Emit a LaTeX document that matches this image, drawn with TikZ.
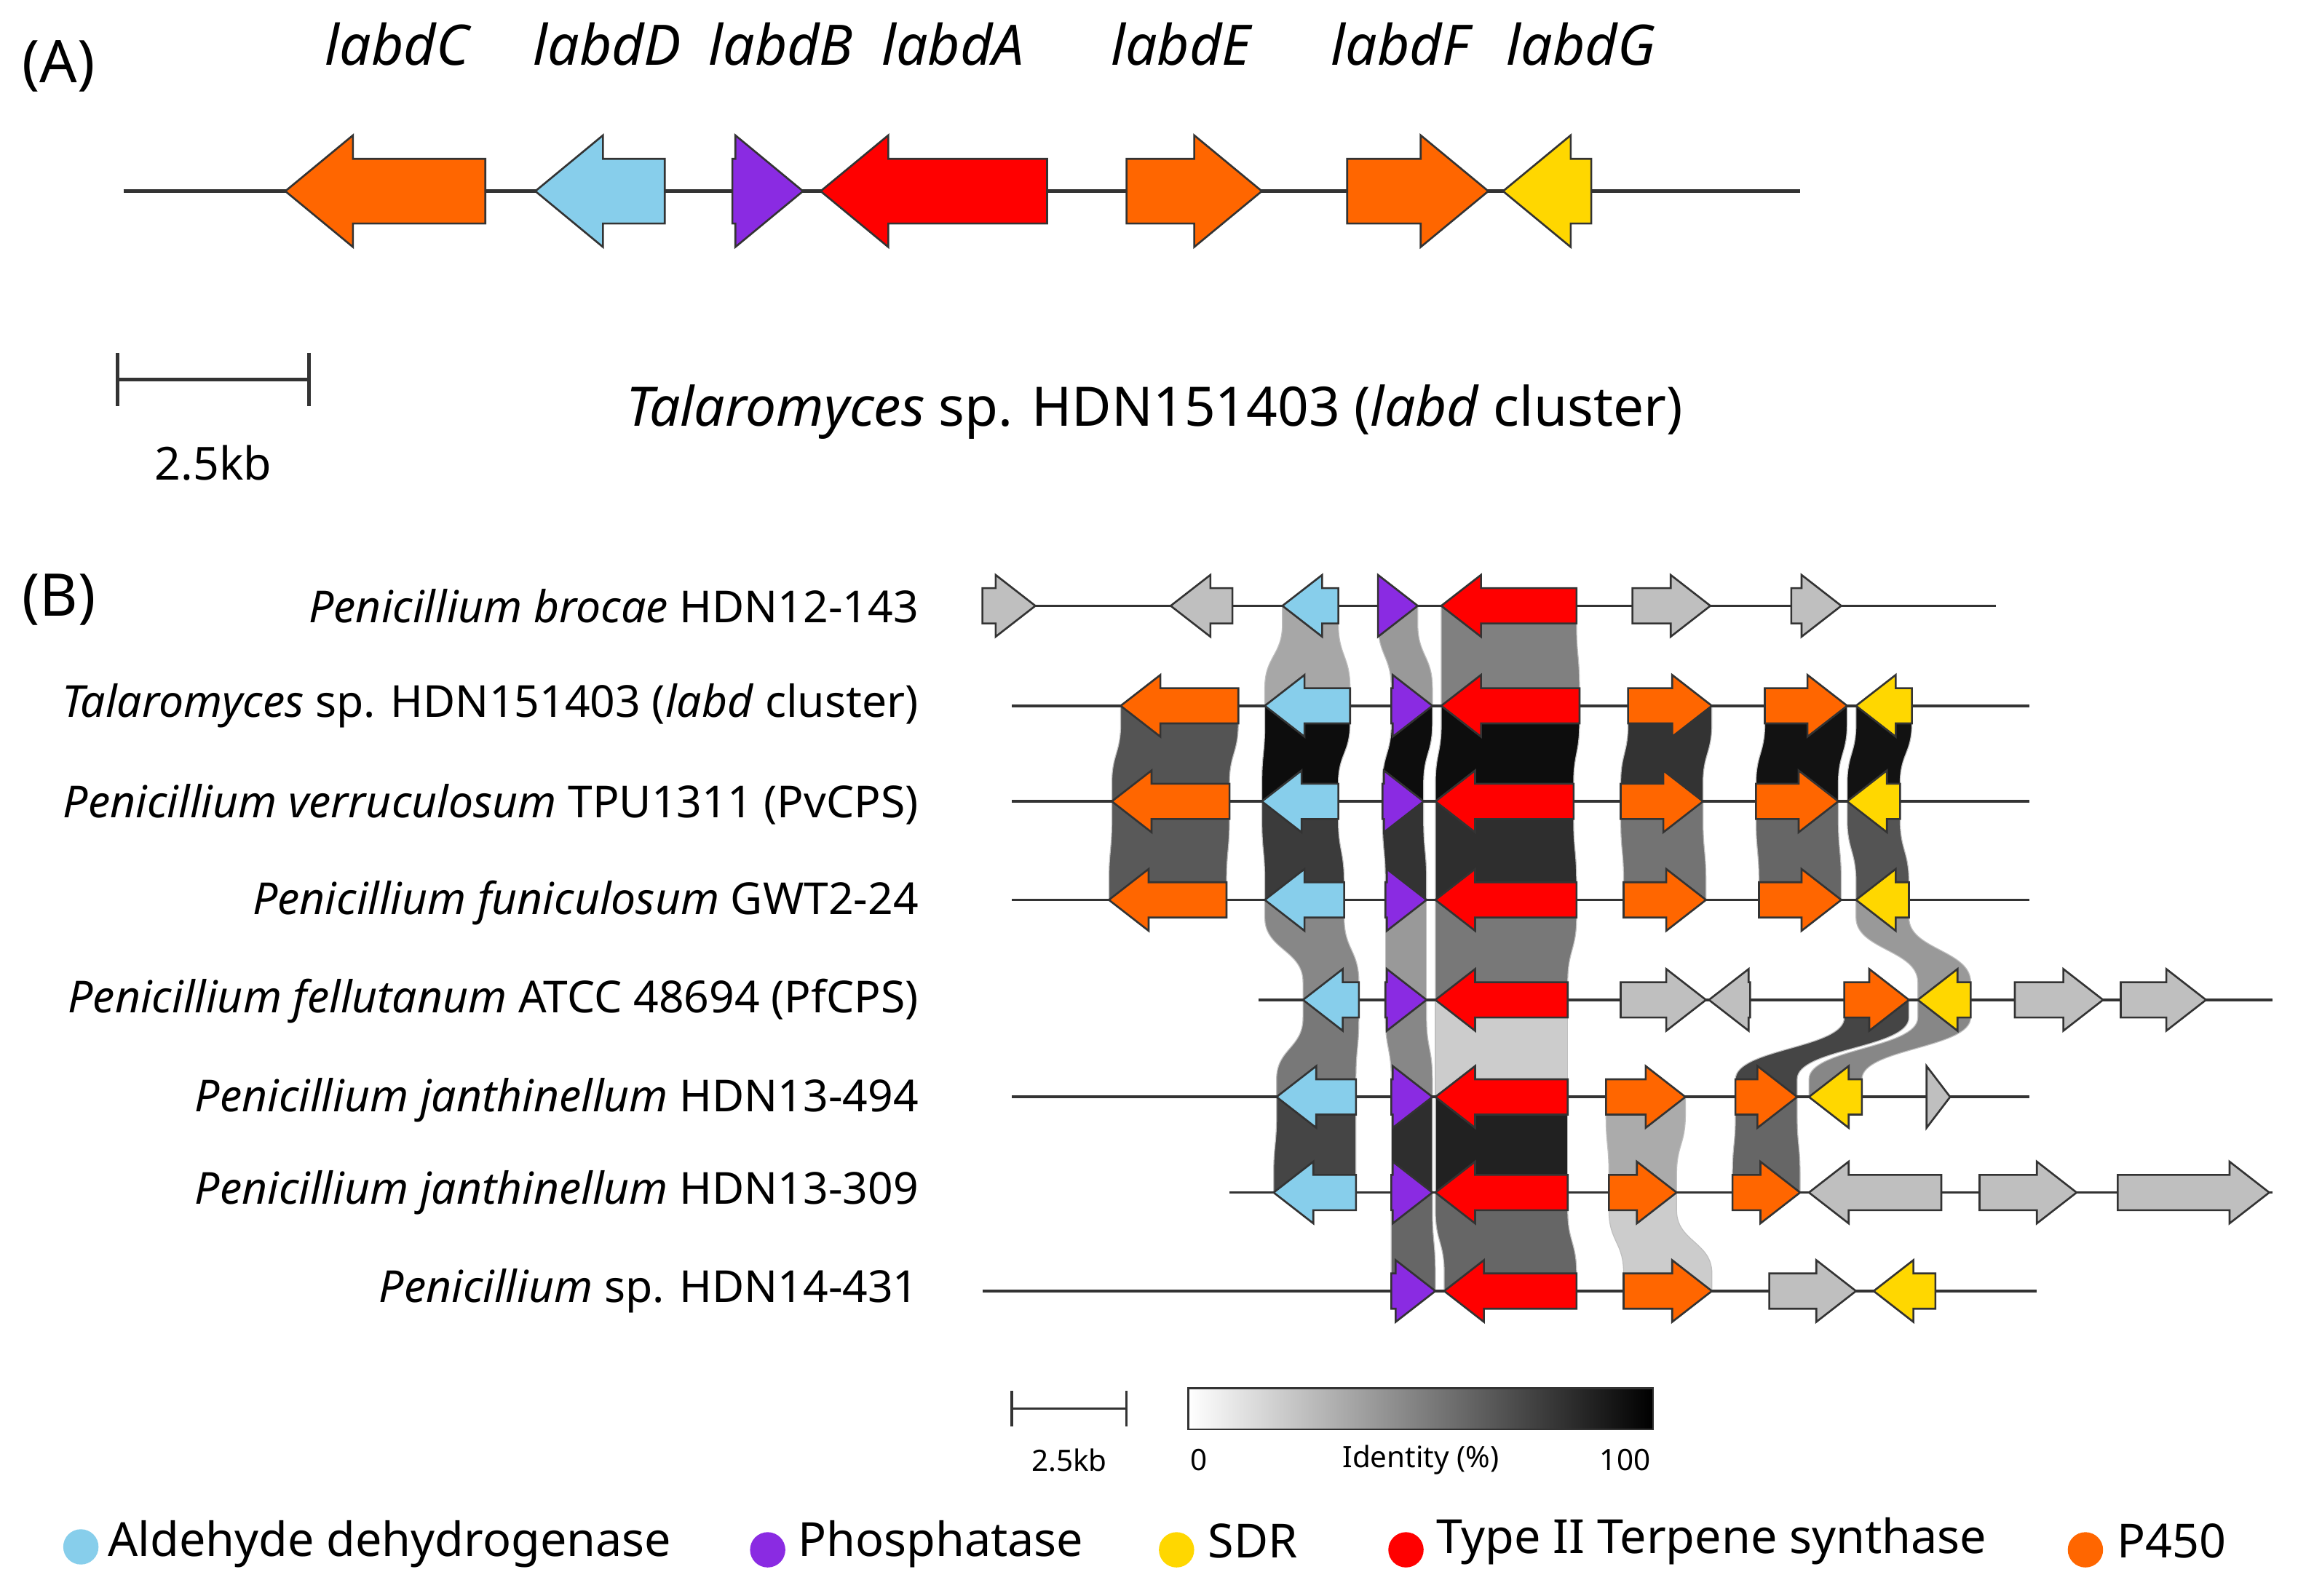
\documentclass[tikz,border=0pt]{standalone}
\usepackage{fontspec}
\setmainfont{Noto Sans}
\begin{document}
\definecolor{cOr}{HTML}{FF6600}\definecolor{cBl}{HTML}{87CEEB}\definecolor{cPu}{HTML}{8A2BE2}
\definecolor{cRe}{HTML}{FF0000}\definecolor{cYe}{HTML}{FFD700}\definecolor{cGr}{HTML}{BFBFBF}
\def\gb{12}\def\gH{21}\def\gL{27}
\newcommand\gR[4]{\pgfmathsetmacro\hl{min(\gL,#2-#1)}\pgfmathsetmacro\hx{#2-\hl}%
 \filldraw[gene,fill=#4] (#1,#3-\gb)--(\hx,#3-\gb)--(\hx,#3-\gH)--(#2,#3)--(\hx,#3+\gH)--(\hx,#3+\gb)--(#1,#3+\gb)--cycle;}
\newcommand\gLf[4]{\pgfmathsetmacro\hl{min(\gL,#2-#1)}\pgfmathsetmacro\hx{#1+\hl}%
 \filldraw[gene,fill=#4] (#2,#3-\gb)--(\hx,#3-\gb)--(\hx,#3-\gH)--(#1,#3)--(\hx,#3+\gH)--(\hx,#3+\gb)--(#2,#3+\gb)--cycle;}
\newcommand\rib[7]{\pgfmathsetmacro\mm{(#3+#6)/2}%
 \filldraw[ribbon,fill=#7] (#1,#3)--(#2,#3)--(#2,#3+\gb) .. controls (#2,\mm) and (#5,\mm) .. (#5,#6-\gb)--(#5,#6)--(#4,#6)--(#4,#6-\gb) .. controls (#4,\mm) and (#1,\mm) .. (#1,#3+\gb)--cycle;}
\begin{tikzpicture}[x=1pt,y=-1pt,
 gene/.style={draw=black!80,line width=1.3pt,line join=miter},
 ribbon/.style={draw=gray!50,line width=0.6pt},
 ln/.style={draw=black!80,line width=1.8pt},
 rl/.style={anchor=east,font=\fontsize{30}{34}\selectfont},
 lg/.style={anchor=west,font=\fontsize{32}{36}\selectfont},
 sm/.style={font=\fontsize{20}{24}\selectfont},
 gl/.style={font=\fontsize{38}{42}\selectfont\itshape}]
\useasboundingbox (0,0) rectangle (1568,1085);
% ---------- (A)
\node[font=\fontsize{40}{44}\selectfont] (A) at (40,45) {(A)};
\draw[ln,line width=2.2pt] (84,130) -- (1224,130);
{\def\gb{22}\def\gH{38}\def\gL{46}
\gLf{194}{330}{130}{cOr}\gLf{364}{452}{130}{cBl}\gR{498}{546}{130}{cPu}
\gLf{558}{712}{130}{cRe}\gR{766}{858}{130}{cOr}\gR{916}{1012}{130}{cOr}\gLf{1022}{1082}{130}{cYe}}
\node[gl] (lC) at (270,30) {labdC};\node[gl] (lD) at (413,30) {labdD};
\node[gl] (lB) at (531,30) {labdB};\node[gl] (lA) at (648,30) {labdA};
\node[gl] (lE) at (803,30) {labdE};\node[gl] (lF) at (952,30) {labdF};
\node[gl] (lG) at (1075,30) {labdG};
\draw[ln,line width=2.4pt] (80,258)--(210,258) (80,240)--(80,276) (210,240)--(210,276);
\node[font=\fontsize{31}{36}\selectfont] (sA) at (145,315) {2.5kb};
\node[font=\fontsize{37}{42}\selectfont] (tA) at (785,280) {\textit{Talaromyces} sp. HDN151403 (\textit{labd} cluster)};
% ---------- (B)
\node[font=\fontsize{40}{44}\selectfont] (B) at (40,408) {(B)};
% ribbons
\rib{872}{910}{412}{860}{918}{480}{gray!85!black!60}
\rib{937}{964}{412}{946}{974}{480}{black!40}
\rib{980}{1072}{412}{980}{1074}{480}{black!50}
\rib{762}{842}{480}{756}{836}{545}{black!67}
\rib{860}{918}{480}{858}{910}{545}{black!95}
\rib{946}{974}{480}{940}{968}{545}{black!95}
\rib{980}{1074}{480}{976}{1070}{545}{black!95}
\rib{1107}{1164}{480}{1102}{1158}{545}{black!80}
\rib{1200}{1256}{480}{1194}{1250}{545}{black!93}
\rib{1262}{1300}{480}{1256}{1292}{545}{black!93}
\rib{756}{836}{545}{754}{834}{612}{black!65}
\rib{858}{910}{545}{860}{914}{612}{black!77}
\rib{940}{968}{545}{942}{970}{612}{black!80}
\rib{976}{1070}{545}{976}{1072}{612}{black!82}
\rib{1102}{1158}{545}{1104}{1160}{612}{black!55}
\rib{1194}{1250}{545}{1196}{1252}{612}{black!60}
\rib{1256}{1292}{545}{1262}{1298}{612}{black!67}
\rib{860}{914}{612}{886}{924}{680}{black!47}
\rib{942}{970}{612}{942}{970}{680}{black!40}
\rib{976}{1072}{612}{976}{1066}{680}{black!53}
\rib{1262}{1298}{612}{1304}{1340}{680}{black!40}
\rib{886}{924}{680}{868}{922}{746}{black!53}
\rib{942}{970}{680}{946}{974}{746}{black!47}
\rib{976}{1066}{680}{976}{1066}{746}{black!20}
\rib{1254}{1298}{680}{1180}{1222}{746}{black!73}
\rib{1304}{1340}{680}{1230}{1266}{746}{black!47}
\rib{868}{922}{746}{866}{922}{811}{black!73}
\rib{946}{974}{746}{946}{974}{811}{black!82}
\rib{976}{1066}{746}{976}{1066}{811}{black!87}
\rib{1092}{1146}{746}{1094}{1140}{811}{black!33}
\rib{1180}{1222}{746}{1178}{1224}{811}{black!60}
\rib{946}{974}{811}{946}{976}{878}{black!60}
\rib{976}{1066}{811}{982}{1072}{878}{black!60}
\rib{1094}{1140}{811}{1104}{1164}{878}{black!20}
% rows
\draw[ln] (668,412)--(1357,412);
\gR{668}{704}{412}{cGr}\gLf{796}{838}{412}{cGr}\gLf{872}{910}{412}{cBl}\gR{937}{964}{412}{cPu}
\gLf{980}{1072}{412}{cRe}\gR{1110}{1163}{412}{cGr}\gR{1218}{1252}{412}{cGr}
\draw[ln] (688,480)--(1380,480);
\gLf{762}{842}{480}{cOr}\gLf{860}{918}{480}{cBl}\gR{946}{974}{480}{cPu}\gLf{980}{1074}{480}{cRe}
\gR{1107}{1164}{480}{cOr}\gR{1200}{1256}{480}{cOr}\gLf{1262}{1300}{480}{cYe}
\draw[ln] (688,545)--(1380,545);
\gLf{756}{836}{545}{cOr}\gLf{858}{910}{545}{cBl}\gR{940}{968}{545}{cPu}\gLf{976}{1070}{545}{cRe}
\gR{1102}{1158}{545}{cOr}\gR{1194}{1250}{545}{cOr}\gLf{1256}{1292}{545}{cYe}
\draw[ln] (688,612)--(1380,612);
\gLf{754}{834}{612}{cOr}\gLf{860}{914}{612}{cBl}\gR{942}{970}{612}{cPu}\gLf{976}{1072}{612}{cRe}
\gR{1104}{1160}{612}{cOr}\gR{1196}{1252}{612}{cOr}\gLf{1262}{1298}{612}{cYe}
\draw[ln] (856,680)--(1545,680);
\gLf{886}{924}{680}{cBl}\gR{942}{970}{680}{cPu}\gLf{976}{1066}{680}{cRe}\gR{1102}{1160}{680}{cGr}
\gLf{1162}{1190}{680}{cGr}\gR{1254}{1298}{680}{cOr}\gLf{1304}{1340}{680}{cYe}
\gR{1370}{1430}{680}{cGr}\gR{1442}{1500}{680}{cGr}
\draw[ln] (688,746)--(1380,746);
\gLf{868}{922}{746}{cBl}\gR{946}{974}{746}{cPu}\gLf{976}{1066}{746}{cRe}\gR{1092}{1146}{746}{cOr}
\gR{1180}{1222}{746}{cOr}\gLf{1230}{1266}{746}{cYe}\gR{1310}{1326}{746}{cGr}
\draw[ln] (836,811)--(1545,811);
\gLf{866}{922}{811}{cBl}\gR{946}{974}{811}{cPu}\gLf{976}{1066}{811}{cRe}\gR{1094}{1140}{811}{cOr}
\gR{1178}{1224}{811}{cOr}\gLf{1230}{1320}{811}{cGr}\gR{1346}{1412}{811}{cGr}\gR{1440}{1543}{811}{cGr}
\draw[ln] (668,878)--(1385,878);
\gR{946}{976}{878}{cPu}\gLf{982}{1072}{878}{cRe}\gR{1104}{1164}{878}{cOr}\gR{1203}{1262}{878}{cGr}
\gLf{1274}{1316}{878}{cYe}
% row labels
\node[rl] (r1) at (628,412) {\textit{Penicillium brocae} HDN12-143};
\node[rl] (r2) at (628,480) {\textit{Talaromyces} sp. HDN151403 (\textit{labd} cluster)};
\node[rl] (r3) at (628,547) {\textit{Penicillium verruculosum} TPU1311 (PvCPS)};
\node[rl] (r4) at (628,614) {\textit{Penicillium funiculosum} GWT2-24};
\node[rl] (r5) at (628,681) {\textit{Penicillium fellutanum} ATCC 48694 (PfCPS)};
\node[rl] (r6) at (628,748) {\textit{Penicillium janthinellum} HDN13-494};
\node[rl] (r7) at (628,811) {\textit{Penicillium janthinellum} HDN13-309};
\node[rl] (r8) at (628,878) {\textit{Penicillium} sp. HDN14-431};
% scale & gradient
\draw[ln] (688,958)--(766,958) (688,946)--(688,970) (766,946)--(766,970);
\node[sm] (sB) at (727,993) {2.5kb};
\shade[left color=white,right color=black] (808,944) rectangle (1124,972);
\draw[black!80,line width=1.2pt] (808,944) rectangle (1124,972);
\node[sm] (g0) at (815,993) {0};
\node[sm] (gI) at (966,993) {Identity (\%)};
\node[sm] (g1) at (1105,993) {100};
% legend
\fill[cBl] (55,1052) circle (12);\node[lg] (L1) at (70,1050) {Aldehyde dehydrogenase};
\fill[cPu] (522,1054) circle (12);\node[lg] (L2) at (539,1050) {Phosphatase};
\fill[cYe] (800,1054) circle (12);\node[lg] (L3) at (818,1048) {SDR};
\fill[cRe] (956,1054) circle (12);\node[lg] (L4) at (973,1048) {Type II Terpene synthase};
\fill[cOr] (1418,1054) circle (12);\node[lg] (L5) at (1436,1048) {P450};
\end{tikzpicture}
\end{document}
